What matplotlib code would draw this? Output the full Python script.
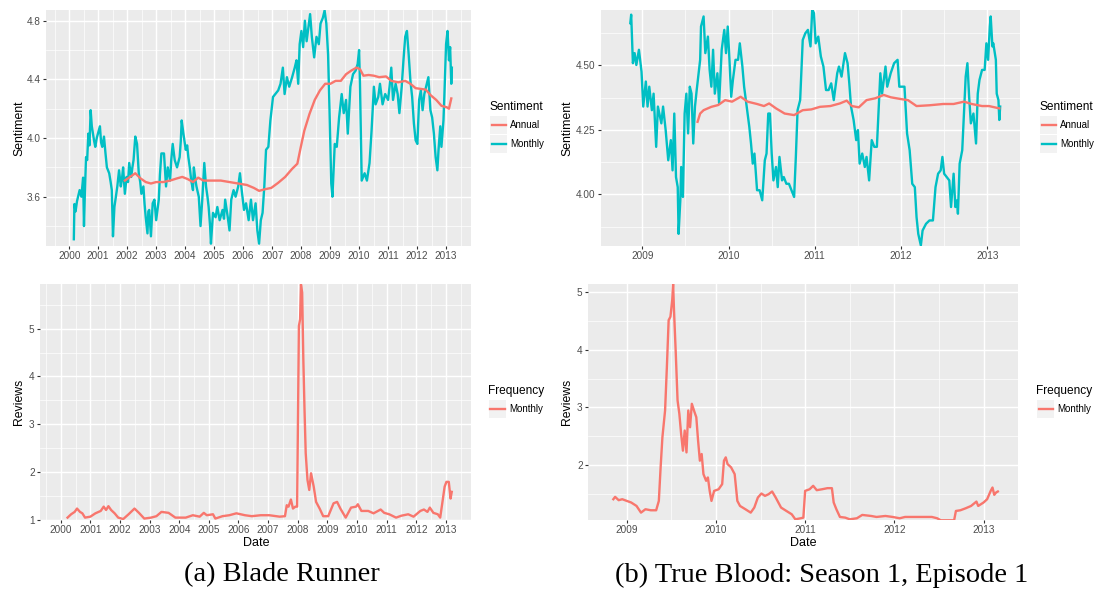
import matplotlib
matplotlib.use("Agg")
import matplotlib.pyplot as plt
from matplotlib.patches import Rectangle
from matplotlib.lines import Line2D
import numpy as np

W, H = 1101, 601
plt.rcParams['font.family'] = ['Liberation Sans', 'DejaVu Sans']

RED = '#F8766D'
TEAL = '#00BFC4'

# ---------------- (a) Blade Runner: sentiment ----------------
br_month_x = [2000.16, 2000.18, 2000.22, 2000.27, 2000.36, 2000.42, 2000.48, 2000.51, 2000.54, 2000.58,
              2000.62, 2000.66, 2000.70, 2000.74, 2000.78, 2000.82, 2000.86, 2000.90, 2000.95, 2000.99,
              2001.06, 2001.10, 2001.14, 2001.20, 2001.25, 2001.30, 2001.38, 2001.43, 2001.47, 2001.51,
              2001.56, 2001.61, 2001.66, 2001.72, 2001.78, 2001.82, 2001.86, 2001.92, 2001.98, 2002.03,
              2002.07, 2002.14, 2002.18, 2002.22, 2002.28, 2002.34, 2002.40, 2002.45, 2002.49, 2002.56,
              2002.60, 2002.64, 2002.70, 2002.73, 2002.76, 2002.82, 2002.88, 2002.94, 2003.00, 2003.05,
              2003.09, 2003.13, 2003.18, 2003.27, 2003.34, 2003.40, 2003.48, 2003.52, 2003.57, 2003.64,
              2003.72, 2003.81, 2003.85, 2003.88, 2003.94, 2004.02, 2004.07, 2004.11, 2004.16, 2004.21,
              2004.27, 2004.30, 2004.35, 2004.39, 2004.47, 2004.53, 2004.59, 2004.66, 2004.72, 2004.77,
              2004.81, 2004.86, 2004.89, 2004.96, 2005.05, 2005.11, 2005.19, 2005.29, 2005.34, 2005.38,
              2005.47, 2005.53, 2005.59, 2005.67, 2005.74, 2005.83, 2005.89, 2005.95, 2006.03, 2006.10,
              2006.19, 2006.27, 2006.34, 2006.43, 2006.49, 2006.55, 2006.61, 2006.67, 2006.73, 2006.79,
              2006.87, 2006.94, 2007.03, 2007.11, 2007.21, 2007.29, 2007.37, 2007.43, 2007.51, 2007.59,
              2007.69, 2007.78, 2007.84, 2007.90, 2007.95, 2008.01, 2008.07, 2008.13, 2008.19, 2008.25,
              2008.31, 2008.37, 2008.45, 2008.53, 2008.61, 2008.67, 2008.75, 2008.81, 2008.87, 2008.93,
              2008.98, 2009.04, 2009.08, 2009.16, 2009.23, 2009.31, 2009.40, 2009.47, 2009.55, 2009.61,
              2009.70, 2009.79, 2009.88, 2009.95, 2010.00, 2010.03, 2010.09, 2010.19, 2010.27, 2010.36,
              2010.43, 2010.51, 2010.57, 2010.66, 2010.72, 2010.81, 2010.90, 2011.00, 2011.05, 2011.11,
              2011.17, 2011.26, 2011.33, 2011.39, 2011.47, 2011.53, 2011.59, 2011.65, 2011.71, 2011.77,
              2011.83, 2011.89, 2011.95, 2012.01, 2012.07, 2012.13, 2012.19, 2012.25, 2012.31, 2012.39,
              2012.46, 2012.52, 2012.58, 2012.64, 2012.70, 2012.74, 2012.80, 2012.84, 2012.91, 2012.94,
              2013.00, 2013.05, 2013.10, 2013.14, 2013.18, 2013.20]
br_month_y = [3.31, 3.55, 3.50, 3.57, 3.645, 3.60, 3.73, 3.40, 3.62, 3.87,
              3.85, 4.03, 3.95, 4.19, 4.08, 4.03, 3.98, 3.94, 4.00, 4.03,
              4.08, 3.97, 3.94, 4.01, 3.90, 3.80, 3.76, 3.70, 3.645, 3.33,
              3.53, 3.60, 3.67, 3.78, 3.67, 3.72, 3.80, 3.62, 3.735, 3.70,
              3.83, 3.735, 3.80, 3.85, 4.01, 3.96, 3.76, 3.70, 3.62, 3.67,
              3.55, 3.46, 3.35, 3.50, 3.51, 3.33, 3.555, 3.58, 3.44, 3.52,
              3.58, 3.75, 3.895, 3.895, 3.67, 3.80, 3.71, 3.85, 3.96, 3.85,
              3.80, 3.87, 3.98, 4.12, 4.03, 3.92, 3.95, 3.87, 3.80, 3.71,
              3.645, 3.80, 3.72, 3.67, 3.60, 3.40, 3.58, 3.83, 3.67, 3.60,
              3.53, 3.40, 3.28, 3.49, 3.46, 3.53, 3.44, 3.51, 3.45, 3.58,
              3.46, 3.37, 3.58, 3.645, 3.60, 3.67, 3.76, 3.645, 3.51, 3.555,
              3.44, 3.58, 3.44, 3.555, 3.37, 3.28, 3.44, 3.49, 3.67, 3.92,
              3.94, 4.12, 4.28, 4.30, 4.325, 4.37, 4.48, 4.30, 4.415, 4.35,
              4.415, 4.48, 4.53, 4.37, 4.64, 4.73, 4.62, 4.80, 4.66, 4.755,
              4.845, 4.69, 4.55, 4.69, 4.64, 4.78, 4.82, 4.87, 4.78, 4.57,
              4.19, 3.69, 3.60, 3.96, 3.94, 4.14, 4.30, 4.17, 4.26, 4.03,
              4.35, 4.435, 4.46, 4.505, 4.60, 4.37, 3.71, 3.76, 3.71, 3.83,
              4.05, 4.35, 4.23, 4.28, 4.37, 4.23, 4.30, 4.26, 4.35, 4.48,
              4.26, 4.37, 4.30, 4.17, 4.35, 4.53, 4.69, 4.73, 4.57, 4.39,
              4.28, 4.10, 3.985, 3.96, 4.26, 4.325, 4.19, 4.30, 4.35, 4.415,
              4.19, 4.14, 4.03, 3.87, 3.78, 3.92, 4.08, 3.94, 4.12, 4.28,
              4.64, 4.73, 4.53, 4.62, 4.37, 4.48]

br_annual_x = [2001.92, 2002.10, 2002.28, 2002.46, 2002.64, 2002.82, 2003.00, 2003.24, 2003.48, 2003.72,
               2003.90, 2004.09, 2004.27, 2004.45, 2004.63, 2004.93, 2005.23, 2005.53, 2005.83, 2006.13,
               2006.37, 2006.55, 2006.73, 2006.97, 2007.21, 2007.45, 2007.69, 2007.87, 2007.99, 2008.11,
               2008.29, 2008.47, 2008.65, 2008.83, 2009.01, 2009.19, 2009.37, 2009.55, 2009.73, 2009.91,
               2010.03, 2010.15, 2010.33, 2010.51, 2010.69, 2010.93, 2011.11, 2011.35, 2011.59, 2011.77,
               2011.95, 2012.13, 2012.30, 2012.48, 2012.66, 2012.84, 2013.02, 2013.10, 2013.18]
br_annual_y = [3.71, 3.735, 3.76, 3.725, 3.70, 3.69, 3.70, 3.70, 3.71, 3.725,
               3.735, 3.72, 3.70, 3.73, 3.71, 3.71, 3.71, 3.70, 3.69, 3.68,
               3.66, 3.64, 3.65, 3.66, 3.695, 3.735, 3.79, 3.825, 3.94, 4.05,
               4.165, 4.26, 4.325, 4.37, 4.37, 4.39, 4.39, 4.435, 4.46, 4.48,
               4.47, 4.425, 4.43, 4.425, 4.415, 4.42, 4.39, 4.38, 4.39, 4.37,
               4.34, 4.335, 4.33, 4.29, 4.26, 4.22, 4.21, 4.20, 4.27]

# ---------------- (a) Blade Runner: reviews ----------------
br_rev_x = [2000.23, 2000.35, 2000.47, 2000.55, 2000.65, 2000.73, 2000.82, 2001.00, 2001.17, 2001.35,
            2001.45, 2001.53, 2001.61, 2001.70, 2001.82, 2001.94, 2002.11, 2002.29, 2002.49, 2002.64,
            2002.82, 2003.05, 2003.23, 2003.40, 2003.64, 2003.87, 2004.22, 2004.46, 2004.69, 2004.83,
            2004.93, 2005.14, 2005.22, 2005.46, 2005.69, 2005.93, 2006.22, 2006.45, 2006.75, 2007.04,
            2007.39, 2007.57, 2007.63, 2007.69, 2007.77, 2007.84, 2007.92, 2007.98, 2008.04, 2008.08,
            2008.11, 2008.15, 2008.19, 2008.23, 2008.27, 2008.33, 2008.39, 2008.45, 2008.54, 2008.62,
            2008.74, 2008.86, 2009.03, 2009.21, 2009.33, 2009.44, 2009.62, 2009.80, 2009.97, 2010.03,
            2010.15, 2010.38, 2010.56, 2010.80, 2010.92, 2011.09, 2011.32, 2011.50, 2011.73, 2011.91,
            2012.14, 2012.26, 2012.38, 2012.46, 2012.58, 2012.73, 2012.81, 2012.88, 2012.96, 2013.02,
            2013.10, 2013.16, 2013.20]
br_rev_y = [1.04, 1.11, 1.16, 1.23, 1.16, 1.13, 1.04, 1.06, 1.13, 1.18,
            1.27, 1.20, 1.28, 1.20, 1.13, 1.04, 1.01, 1.11, 1.23, 1.14,
            1.02, 1.04, 1.07, 1.16, 1.14, 1.04, 1.04, 1.09, 1.06, 1.14,
            1.09, 1.11, 1.02, 1.07, 1.09, 1.13, 1.09, 1.07, 1.09, 1.09,
            1.06, 1.07, 1.30, 1.27, 1.42, 1.23, 1.27, 1.27, 5.06, 5.20,
            5.93, 5.76, 4.35, 3.30, 2.39, 1.83, 1.62, 1.97, 1.69, 1.37,
            1.23, 1.07, 1.07, 1.34, 1.37, 1.23, 1.04, 1.25, 1.27, 1.32,
            1.18, 1.18, 1.13, 1.21, 1.14, 1.11, 1.04, 1.08, 1.11, 1.06,
            1.18, 1.21, 1.16, 1.25, 1.14, 1.11, 1.04, 1.34, 1.69, 1.79,
            1.79, 1.44, 1.58]

# ---------------- (b) True Blood: sentiment ----------------
tb_month_x = [2008.86, 2008.87, 2008.89, 2008.91, 2008.93, 2008.96, 2008.99, 2009.01, 2009.04, 2009.06,
              2009.08, 2009.11, 2009.13, 2009.16, 2009.18, 2009.22, 2009.24, 2009.27, 2009.30, 2009.33,
              2009.35, 2009.37, 2009.39, 2009.41, 2009.42, 2009.44, 2009.45, 2009.47, 2009.49, 2009.51,
              2009.53, 2009.55, 2009.57, 2009.59, 2009.61, 2009.63, 2009.67, 2009.68, 2009.71, 2009.73,
              2009.76, 2009.78, 2009.80, 2009.82, 2009.84, 2009.87, 2009.89, 2009.92, 2009.95, 2009.97,
              2009.99, 2010.01, 2010.03, 2010.05, 2010.08, 2010.11, 2010.13, 2010.16, 2010.18, 2010.21,
              2010.24, 2010.26, 2010.28, 2010.30, 2010.33, 2010.36, 2010.39, 2010.42, 2010.44, 2010.46,
              2010.48, 2010.50, 2010.52, 2010.55, 2010.57, 2010.59, 2010.62, 2010.64, 2010.67, 2010.70,
              2010.73, 2010.76, 2010.78, 2010.80, 2010.83, 2010.86, 2010.89, 2010.92, 2010.95, 2010.97,
              2010.99, 2011.01, 2011.04, 2011.07, 2011.10, 2011.13, 2011.16, 2011.19, 2011.22, 2011.26,
              2011.28, 2011.31, 2011.35, 2011.38, 2011.40, 2011.42, 2011.45, 2011.48, 2011.50, 2011.52,
              2011.55, 2011.58, 2011.60, 2011.63, 2011.66, 2011.69, 2011.72, 2011.76, 2011.78, 2011.82,
              2011.84, 2011.88, 2011.92, 2011.96, 2011.98, 2012.01, 2012.04, 2012.07, 2012.10, 2012.13,
              2012.16, 2012.18, 2012.20, 2012.23, 2012.25, 2012.29, 2012.33, 2012.37, 2012.40, 2012.43,
              2012.46, 2012.48, 2012.50, 2012.53, 2012.56, 2012.58, 2012.61, 2012.63, 2012.65, 2012.66,
              2012.68, 2012.71, 2012.73, 2012.75, 2012.77, 2012.79, 2012.81, 2012.84, 2012.87, 2012.89,
              2012.91, 2012.94, 2012.97, 2012.99, 2013.01, 2013.03, 2013.04, 2013.06, 2013.07, 2013.10,
              2013.11, 2013.13, 2013.14, 2013.15]
tb_month_y = [4.663, 4.696, 4.508, 4.547, 4.501, 4.560, 4.475, 4.340, 4.437, 4.340,
              4.417, 4.326, 4.390, 4.184, 4.340, 4.275, 4.340, 4.249, 4.132, 4.210,
              4.093, 4.313, 4.067, 4.028, 3.847, 3.977, 4.106, 3.990, 4.313, 4.390,
              4.236, 4.417, 4.390, 4.197, 4.340, 4.404, 4.521, 4.650, 4.689, 4.547,
              4.611, 4.482, 4.417, 4.560, 4.390, 4.469, 4.352, 4.560, 4.637, 4.547,
              4.650, 4.521, 4.378, 4.443, 4.521, 4.521, 4.585, 4.495, 4.417, 4.340,
              4.262, 4.197, 4.119, 4.158, 4.016, 4.016, 3.977, 4.132, 4.158, 4.313,
              4.313, 4.158, 4.054, 4.106, 4.028, 4.145, 4.054, 4.067, 4.041, 4.041,
              4.016, 3.990, 4.145, 4.326, 4.365, 4.598, 4.624, 4.637, 4.573, 4.715,
              4.702, 4.585, 4.611, 4.534, 4.495, 4.404, 4.404, 4.430, 4.365, 4.469,
              4.495, 4.456, 4.547, 4.508, 4.430, 4.340, 4.288, 4.210, 4.249, 4.119,
              4.158, 4.106, 4.145, 4.054, 4.210, 4.184, 4.184, 4.469, 4.390, 4.495,
              4.417, 4.469, 4.508, 4.521, 4.417, 4.417, 4.417, 4.236, 4.171, 4.041,
              4.028, 3.912, 3.847, 3.802, 3.860, 3.886, 3.899, 3.899, 4.028, 4.080,
              4.093, 4.145, 4.080, 4.067, 4.054, 3.951, 4.080, 3.951, 3.977, 3.925,
              4.119, 4.171, 4.313, 4.456, 4.508, 4.378, 4.275, 4.313, 4.197, 4.390,
              4.443, 4.482, 4.482, 4.585, 4.521, 4.650, 4.689, 4.573, 4.585, 4.521,
              4.390, 4.365, 4.288, 4.340]

tb_annual_x = [2009.64, 2009.67, 2009.71, 2009.80, 2009.88, 2009.96, 2010.04, 2010.14, 2010.22, 2010.33,
               2010.41, 2010.47, 2010.55, 2010.65, 2010.76, 2010.86, 2010.96, 2011.06, 2011.18, 2011.29,
               2011.37, 2011.43, 2011.51, 2011.60, 2011.70, 2011.80, 2011.88, 2012.00, 2012.08, 2012.18,
               2012.33, 2012.49, 2012.61, 2012.73, 2012.82, 2012.94, 2013.02, 2013.14]
tb_annual_y = [4.281, 4.313, 4.326, 4.339, 4.346, 4.365, 4.359, 4.378, 4.359, 4.350,
               4.342, 4.352, 4.333, 4.313, 4.307, 4.326, 4.329, 4.339, 4.342, 4.352,
               4.363, 4.342, 4.337, 4.365, 4.372, 4.385, 4.376, 4.369, 4.365, 4.342,
               4.345, 4.350, 4.350, 4.359, 4.350, 4.342, 4.342, 4.333]

# ---------------- (b) True Blood: reviews ----------------
tb_rev_x = [2008.85, 2008.87, 2008.91, 2008.95, 2009.00, 2009.05, 2009.11, 2009.16, 2009.21, 2009.27,
            2009.33, 2009.36, 2009.38, 2009.40, 2009.43, 2009.45, 2009.47, 2009.49, 2009.51, 2009.52,
            2009.53, 2009.55, 2009.57, 2009.59, 2009.61, 2009.63, 2009.65, 2009.67, 2009.69, 2009.71,
            2009.73, 2009.76, 2009.78, 2009.80, 2009.82, 2009.84, 2009.86, 2009.89, 2009.91, 2009.93,
            2009.95, 2009.98, 2010.03, 2010.07, 2010.09, 2010.11, 2010.13, 2010.17, 2010.21, 2010.24,
            2010.27, 2010.33, 2010.39, 2010.43, 2010.47, 2010.51, 2010.55, 2010.59, 2010.63, 2010.67,
            2010.73, 2010.79, 2010.85, 2010.89, 2010.95, 2010.98, 2011.00, 2011.05, 2011.09, 2011.13,
            2011.19, 2011.25, 2011.30, 2011.32, 2011.35, 2011.39, 2011.45, 2011.50, 2011.58, 2011.64,
            2011.74, 2011.80, 2011.90, 2011.98, 2012.06, 2012.12, 2012.26, 2012.42, 2012.48, 2012.52,
            2012.62, 2012.67, 2012.69, 2012.74, 2012.80, 2012.86, 2012.92, 2012.94, 2013.00, 2013.04,
            2013.08, 2013.10, 2013.12, 2013.14, 2013.16]
tb_rev_y = [1.407, 1.448, 1.390, 1.407, 1.378, 1.350, 1.290, 1.174, 1.233, 1.215,
            1.215, 1.378, 1.960, 2.483, 2.948, 3.700, 4.517, 4.576, 4.866, 5.145,
            4.690, 3.936, 3.122, 2.890, 2.540, 2.250, 2.600, 2.220, 2.948, 2.657,
            3.064, 2.920, 2.831, 2.424, 2.076, 2.192, 1.843, 1.727, 1.785, 1.552,
            1.378, 1.552, 1.580, 1.669, 2.076, 2.134, 2.018, 1.960, 1.843, 1.378,
            1.290, 1.233, 1.174, 1.262, 1.436, 1.506, 1.465, 1.494, 1.541, 1.436,
            1.262, 1.203, 1.145, 1.058, 1.076, 1.087, 1.552, 1.580, 1.640, 1.564,
            1.580, 1.599, 1.599, 1.350, 1.233, 1.099, 1.087, 1.058, 1.076, 1.134,
            1.116, 1.099, 1.116, 1.099, 1.076, 1.099, 1.099, 1.099, 1.076, 1.041,
            1.041, 1.041, 1.203, 1.215, 1.250, 1.290, 1.366, 1.290, 1.350, 1.407,
            1.552, 1.610, 1.483, 1.523, 1.541]

captions = ["(a) Blade Runner", "(b) True Blood: Season 1, Episode 1"]

fig = plt.figure(figsize=(W / 100, H / 100), dpi=100)


def fx(px):
    return px / W


def fy(py):
    return 1 - py / H


def add_ax(x0, y0, x1, y1):
    return fig.add_axes([fx(x0), fy(y1), (x1 - x0) / W, (y1 - y0) / H])


def style(ax, xlim, ylim, yticks, ylabels, xticks, xminor, yminor):
    ax.set_facecolor('#EBEBEB')
    for s in ax.spines.values():
        s.set_visible(False)
    ax.set_xlim(*xlim)
    ax.set_ylim(*ylim)
    ax.set_xticks(xticks)
    ax.set_xticklabels([str(int(t)) for t in xticks])
    ax.set_yticks(yticks)
    ax.set_yticklabels(ylabels)
    ax.set_xticks(xminor, minor=True)
    ax.set_yticks(yminor, minor=True)
    ax.grid(True, which='major', color='white', lw=1.05)
    ax.grid(True, which='minor', color='white', lw=0.5)
    ax.set_axisbelow(True)
    ax.tick_params(which='major', length=2.4, width=0.8, color='#333333',
                   labelsize=7.2, labelcolor='#4D4D4D', pad=1.5)
    ax.tick_params(which='minor', length=0)


def legend(title, items, x, ty, rows_y):
    fig.text(fx(x), fy(ty), title, fontsize=8.6, ha='left', va='center', color='black')
    for (label, col), ry in zip(items, rows_y):
        fig.patches.append(Rectangle((fx(x + 1), fy(ry + 9)), 17 / W, 18 / H,
                                     transform=fig.transFigure, facecolor='#F2F2F2',
                                     edgecolor='none'))
        fig.lines.append(Line2D([fx(x + 2.5), fx(x + 16.5)], [fy(ry), fy(ry)],
                                transform=fig.transFigure, color=col, lw=1.7))
        fig.text(fx(x + 21), fy(ry), label, fontsize=7, ha='left', va='center', color='black')


lw = 1.7

# (a) top
ax = add_ax(46, 10, 471, 246)
style(ax, (1999.2, 2013.86), (3.264, 4.873), [3.6, 4.0, 4.4, 4.8], ['3.6', '4.0', '4.4', '4.8'],
      list(range(2000, 2014)), [1999.5 + i for i in range(15)], [3.4, 3.8, 4.2, 4.6])
ax.plot(br_month_x, br_month_y, color=TEAL, lw=lw, solid_joinstyle='round')
ax.plot(br_annual_x, br_annual_y, color=RED, lw=lw, solid_joinstyle='round')
fig.text(fx(19), fy(128), 'Sentiment', rotation=90, fontsize=8.8, ha='center', va='center')
legend('Sentiment', [('Annual', RED), ('Monthly', TEAL)], 489, 107, [125, 144])

# (a) bottom
ax = add_ax(40, 284, 471, 520)
style(ax, (1999.3, 2013.85), (0.99, 5.94), [1, 2, 3, 4, 5], ['1', '2', '3', '4', '5'],
      list(range(2000, 2014)), [1999.5 + i for i in range(15)], [1.5, 2.5, 3.5, 4.5, 5.5])
ax.plot(br_rev_x, br_rev_y, color=RED, lw=lw, solid_joinstyle='round')
fig.text(fx(19), fy(402), 'Reviews', rotation=90, fontsize=8.8, ha='center', va='center')
fig.text(fx(256), fy(543), 'Date', fontsize=9, ha='center', va='center')
legend('Frequency', [('Monthly', RED)], 488, 391, [409])

# (b) top
ax = add_ax(601, 10, 1020, 246)
style(ax, (2008.52, 2013.38), (3.80, 4.714), [4.0, 4.25, 4.5], ['4.00', '4.25', '4.50'],
      [2009, 2010, 2011, 2012, 2013], [2009.5, 2010.5, 2011.5, 2012.5],
      [3.875, 4.125, 4.375, 4.625])
ax.plot(tb_month_x, tb_month_y, color=TEAL, lw=lw, solid_joinstyle='round')
ax.plot(tb_annual_x, tb_annual_y, color=RED, lw=lw, solid_joinstyle='round')
fig.text(fx(567), fy(128), 'Sentiment', rotation=90, fontsize=8.8, ha='center', va='center')
legend('Sentiment', [('Annual', RED), ('Monthly', TEAL)], 1039, 107, [125, 144])

# (b) bottom
ax = add_ax(588, 284, 1018, 520)
style(ax, (2008.566, 2013.386), (1.046, 5.145), [2, 3, 4, 5], ['2', '3', '4', '5'],
      [2009, 2010, 2011, 2012, 2013], [2009.5, 2010.5, 2011.5, 2012.5],
      [1.5, 2.5, 3.5, 4.5])
ax.plot(tb_rev_x, tb_rev_y, color=RED, lw=lw, solid_joinstyle='round')
fig.text(fx(567), fy(402), 'Reviews', rotation=90, fontsize=8.8, ha='center', va='center')
fig.text(fx(803), fy(543), 'Date', fontsize=9, ha='center', va='center')
legend('Frequency', [('Monthly', RED)], 1036, 391, [409])

# captions
fig.text(fx(282), fy(575), captions[0], fontsize=20.5, family='Liberation Serif',
         ha='center', va='center')
fig.text(fx(822), fy(575), captions[1], fontsize=20.5, family='Liberation Serif',
         ha='center', va='center')

fig.savefig('out.png', dpi=100)
